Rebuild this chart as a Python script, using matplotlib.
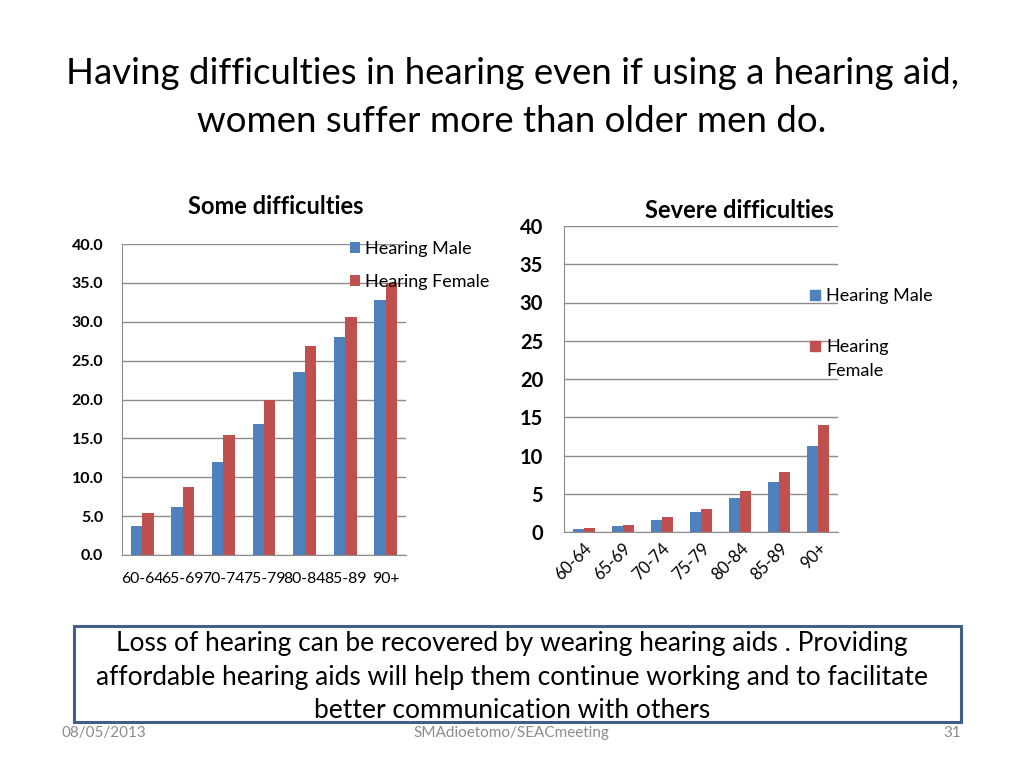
import matplotlib
matplotlib.use("Agg")
import matplotlib.pyplot as plt
import numpy as np
from matplotlib.patches import Rectangle

plt.rcParams['font.family'] = ['Lato', 'DejaVu Sans']

# data
age_groups = ['60-64', '65-69', '70-74', '75-79', '80-84', '85-89', '90+']
some_male = [3.7, 6.2, 12.0, 16.8, 23.6, 28.0, 32.8]
some_female = [5.4, 8.7, 15.4, 19.9, 26.9, 30.6, 35.0]
severe_male = [0.4, 0.8, 1.6, 2.6, 4.5, 6.5, 11.3]
severe_female = [0.5, 0.9, 1.9, 3.0, 5.3, 7.8, 14.0]
series_names = ['Hearing Male', 'Hearing Female']

blue = '#4F81BD'
red = '#C0504D'
grid_col = '#8C8C8C'
W, H = 1024, 768


def fx(px):
    return px / W


def fy(py):
    return 1 - py / H


fig = plt.figure(figsize=(10.24, 7.68), dpi=100)
fig.patch.set_facecolor('white')

fig.text(0.5, fy(73), 'Having difficulties in hearing even if using a hearing aid,',
         ha='center', va='center', fontsize=26.4)
fig.text(0.5, fy(121), 'women suffer more than older men do.',
         ha='center', va='center', fontsize=26.4)


def style_axes(ax, pad):
    for s in ['top', 'right']:
        ax.spines[s].set_visible(False)
    ax.spines['left'].set_color(grid_col)
    ax.spines['bottom'].set_color(grid_col)
    ax.yaxis.grid(True, color=grid_col, linewidth=1)
    ax.set_axisbelow(True)
    ax.tick_params(axis='y', length=0, pad=pad)
    ax.tick_params(axis='x', length=0)


x = np.arange(len(age_groups))
w = 0.28

# left chart: some difficulties
ax1 = fig.add_axes([fx(122), fy(555), fx(284), (555 - 244) / H])
ax1.bar(x - w / 2, some_male, w, color=blue, label=series_names[0])
ax1.bar(x + w / 2, some_female, w, color=red, label=series_names[1])
ax1.set_xlim(-0.5, 6.5)
ax1.set_ylim(0, 40)
ax1.set_yticks(np.arange(0, 41, 5))
ax1.set_yticklabels(['%.1f' % v for v in np.arange(0, 41, 5)],
                    fontsize=11.5, fontweight='bold')
ax1.set_xticks(x)
ax1.set_xticklabels(age_groups, fontsize=11.3)
style_axes(ax1, 13.5)
ax1.tick_params(axis='x', pad=12)
fig.text(fx(276), fy(206), 'Some difficulties', ha='center', va='center',
         fontsize=17, fontweight='bold')
ax1.legend(loc='upper left', bbox_to_anchor=(fx(350), fy(241)),
           bbox_transform=fig.transFigure, frameon=False, fontsize=13,
           handlelength=0.55, handleheight=0.55, handletextpad=0.3,
           labelspacing=0.95, borderaxespad=0, borderpad=0)

# right chart: severe difficulties
ax2 = fig.add_axes([fx(564), fy(532), fx(274), (532 - 226) / H])
ax2.bar(x - w / 2, severe_male, w, color=blue)
ax2.bar(x + w / 2, severe_female, w, color=red)
ax2.set_xlim(-0.5, 6.5)
ax2.set_ylim(0, 40)
ax2.set_yticks(np.arange(0, 41, 5))
ax2.set_yticklabels([str(v) for v in range(0, 41, 5)],
                    fontsize=14.5, fontweight='bold')
ax2.set_xticks(x)
ax2.set_xticklabels(age_groups, fontsize=12, rotation=45, ha='right',
                    rotation_mode='anchor')
style_axes(ax2, 15)
ax2.tick_params(axis='x', pad=6)
fig.text(fx(739), fy(210), 'Severe difficulties', ha='center', va='center',
         fontsize=17, fontweight='bold')

# legend of the right chart, label wrapped like the slide
for col, label, ypos in [(blue, 'Hearing Male', 295), (red, 'Hearing\nFemale', 346)]:
    fig.patches.append(Rectangle((fx(810), fy(ypos + 5)), fx(10), 10 / H,
                                 transform=fig.transFigure, color=col))
    fig.text(fx(826), fy(ypos - 7), label, ha='left', va='top',
             fontsize=13, linespacing=1.6)

# text box at the bottom
box = Rectangle((fx(74), fy(722)), fx(961 - 74), (722 - 626) / H,
                transform=fig.transFigure, fill=False, edgecolor='#3F5F8C',
                linewidth=2.2)
fig.patches.append(box)
msg = ['Loss of hearing can be recovered by wearing hearing aids . Providing',
       'affordable hearing aids will help them continue working and to facilitate',
       'better communication with others']
for i, line in enumerate(msg):
    fig.text(0.5, fy(643 + 34 * i), line, ha='center', va='center', fontsize=19)

fig.text(fx(62), fy(733), '08/05/2013', ha='left', va='center',
         fontsize=11, color='#8C8C8C')
fig.text(fx(511), fy(733), 'SMAdioetomo/SEACmeeting', ha='center', va='center',
         fontsize=11, color='#8C8C8C')
fig.text(fx(961), fy(733), '31', ha='right', va='center',
         fontsize=11, color='#8C8C8C')

fig.savefig('out.png', dpi=100)
